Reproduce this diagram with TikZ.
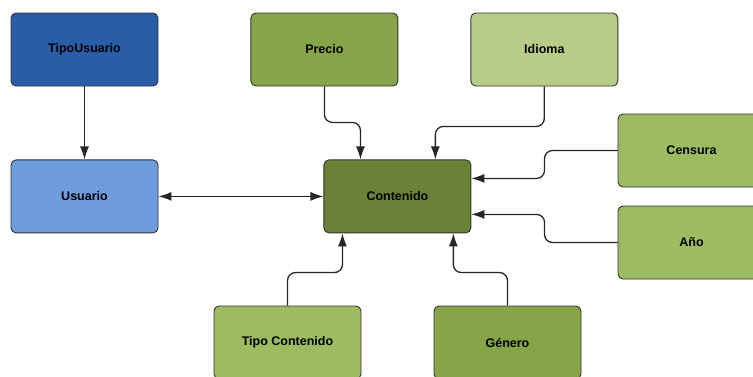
\documentclass[tikz,border=0pt]{standalone}
\usepackage{fontspec}
\setmainfont{Liberation Sans}
\usetikzlibrary{positioning,arrows.meta}

\definecolor{azulosc}{HTML}{2A5DA8}
\definecolor{azulcla}{HTML}{6F9CDC}
\definecolor{verdeosc}{HTML}{6A8238}
\definecolor{verdemed}{HTML}{86A548}
\definecolor{verdecla}{HTML}{9DBB61}
\definecolor{verdepal}{HTML}{B8CC88}

\begin{document}
\begin{tikzpicture}[x=1pt, y=-1pt,
  entidad/.style={draw=black!80, line width=0.9pt, rounded corners=5pt,
                  minimum width=147pt, minimum height=73pt,
                  font=\fontsize{12.5}{14}\selectfont\bfseries},
  flecha/.style={line width=1.3pt, draw=black!85, rounded corners=8pt,
                 -{Latex[length=13pt,width=9pt]}},
  ]
  \useasboundingbox (0,0) rectangle (753,376);

  % entities
  \node[entidad, fill=azulosc] (tu) at (84.5,49.5) {TipoUsuario};
  \node[entidad, fill=verdemed, right=92pt of tu] (precio) {Precio};
  \node[entidad, fill=verdepal, right=72pt of precio] (idioma) {Idioma};
  \node[entidad, fill=azulcla, below=73pt of tu] (usuario) {Usuario};
  \node[entidad, fill=verdeosc, right=165pt of usuario] (cont) {Contenido};
  \node[entidad, fill=verdecla] (censura) at (691.5,150.5) {Censura};
  \node[entidad, fill=verdecla] (anio) at (691.5,242.5) {Año};
  \node[entidad, fill=verdecla] (tcont) at (287.5,342.5) {Tipo Contenido};
  \node[entidad, fill=verdemed] (genero) at (507.5,342.5) {Género};

  % connectors
  \draw[flecha] (tu) -- (usuario);
  \draw[flecha, {Latex[length=13pt,width=9pt]}-{Latex[length=13pt,width=9pt]}]
    (usuario) -- (cont);
  \draw[flecha] (precio.south) -- ++(0,36) -| ([xshift=37pt]cont.north west);
  \draw[flecha] (idioma.south) -- ++(0,40) -| ([xshift=-36pt]cont.north east);
  \draw[flecha] (censura.west) -- ++(-73,0) |- ([yshift=18pt]cont.east);
  \draw[flecha] (anio.west) -- ++(-73,0) |- ([yshift=-18pt]cont.east);
  \draw[flecha] (tcont.north) -- ++(0,-33) -| ([xshift=19pt]cont.south west);
  \draw[flecha] (genero.north) -- ++(0,-33) -| ([xshift=-18pt]cont.south east);
\end{tikzpicture}
\end{document}
